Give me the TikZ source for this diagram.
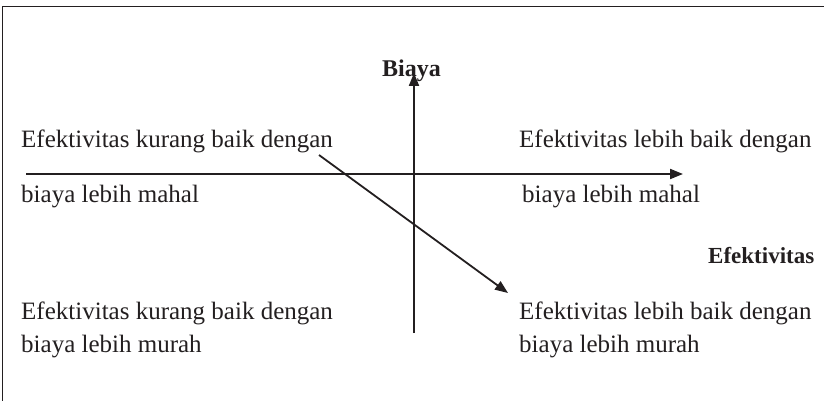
\documentclass[tikz,border=0pt]{standalone}
\usepackage{xcolor}
\usepackage{fontspec}
\setmainfont{Liberation Serif}
\usetikzlibrary{arrows.meta}
\definecolor{ink}{HTML}{231F20}

\tikzset{
  quadtext/.style={anchor=base west, inner sep=0pt, align=left, text=ink,
    font=\fontsize{25}{32.4}\selectfont},
  axistitle/.style={anchor=base west, inner sep=0pt, text=ink,
    font=\fontsize{24}{28}\selectfont\bfseries},
  axisline/.style={draw=ink, line width=2pt, -{Triangle[length=13pt,width=10pt]}},
}

\begin{document}
\begin{tikzpicture}[x=1pt, y=-1pt]
            \useasboundingbox (0,0) rectangle (824,401);
            % frame
            \draw[ink, line width=1.2pt] (2.7,6.5) rectangle (850,430);

            % axes
            \coordinate (xstart) at (26,174);
            \coordinate (xend) at (683,174);
            \coordinate (ystart) at (414,333);
            \coordinate (yend) at (414,73);
            \draw[axisline] (xstart) -- (xend);
            \draw[axisline] (ystart) -- (yend);

            % axis titles
            \node[axistitle] (biaya) at (382,77) {Biaya};
            \node[axistitle, font=\fontsize{23}{28}\selectfont\bfseries] (efek) at (708,263) {Efektivitas};

            % quadrants (base = last line)
            \node[quadtext] (kiriAtas) at (21,147) {Efektivitas kurang baik dengan};
            \node[quadtext] (kiriAtasB) at (21,202) {biaya lebih mahal};
            \node[quadtext] (kananAtas) at (519,147) {Efektivitas lebih baik dengan};
            \node[quadtext] (kananAtasB) at (522,202) {biaya lebih mahal};
            \node[quadtext] (kiriBawah) at (21,352) {Efektivitas kurang baik dengan\\biaya lebih murah};
            \node[quadtext] (kananBawah) at (519,352) {Efektivitas lebih baik dengan\\biaya lebih murah};

            % diagonal
            \coordinate (dstart) at (319,155);
            \coordinate (dend) at (508,293);
            \draw[axisline, line width=1.8pt] (dstart) -- (dend);
\end{tikzpicture}
\end{document}
